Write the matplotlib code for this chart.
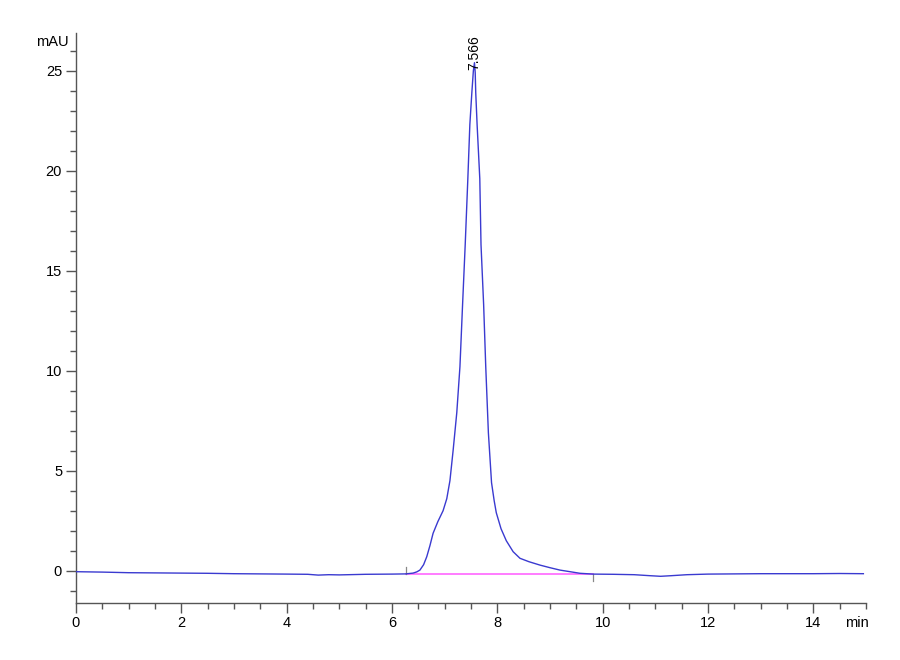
import matplotlib
matplotlib.use("Agg")
import matplotlib.pyplot as plt
from matplotlib.ticker import MultipleLocator
from matplotlib import font_manager

names = {f.name for f in font_manager.fontManager.ttflist}
fam = "Liberation Sans Narrow" if "Liberation Sans Narrow" in names else "Liberation Sans"
plt.rcParams['font.family'] = [fam, 'DejaVu Sans']

# Chromatogram trace (time in min, absorbance in mAU)
time_min = [0.0, 0.5, 1.0, 1.5, 2.0, 2.5, 3.0, 3.5, 4.0, 4.4, 4.6, 4.8, 5.0, 5.5, 6.0, 6.26,
            6.40, 6.47, 6.53, 6.60, 6.66, 6.72, 6.78, 6.87, 6.97, 7.04, 7.10, 7.16, 7.23,
            7.29, 7.34, 7.39, 7.44, 7.478, 7.516, 7.545, 7.566, 7.58, 7.59, 7.616, 7.667,
            7.69, 7.74, 7.78, 7.83, 7.89, 7.94, 7.98, 8.07, 8.17, 8.30, 8.43, 8.60, 8.81,
            9.0, 9.19, 9.57, 9.82, 10.2, 10.6, 10.9, 11.1, 11.3, 11.6,
            12.0, 12.5, 13.0, 13.5, 14.0, 14.5, 14.95]
signal_mau = [-0.05, -0.07, -0.1, -0.11, -0.12, -0.13, -0.15, -0.16, -0.17, -0.18, -0.22,
              -0.2, -0.21, -0.18, -0.17, -0.16,
              -0.12, -0.06, 0.03, 0.3, 0.7, 1.25, 1.87, 2.45, 3.0, 3.6, 4.5, 6.0, 7.9,
              10.2, 13.3, 16.3, 19.6, 22.3, 23.9, 25.0, 25.4, 24.9, 23.9, 22.3, 19.6,
              16.3, 13.3, 10.2, 6.9, 4.4, 3.5, 2.9, 2.1, 1.5, 0.95, 0.62, 0.45, 0.28,
              0.15, 0.03, -0.13, -0.17, -0.18, -0.2, -0.25, -0.28, -0.25,
              -0.2, -0.17, -0.16, -0.15, -0.15, -0.15, -0.14, -0.15]

# Integration baseline
base_t = [6.26, 9.82]
base_y = [-0.16, -0.16]

peak_rt = 7.566
peak_label_y = 25.05
peak_label = "7.566"

fig = plt.figure(figsize=(9, 6.6), dpi=100)
ax = fig.add_axes([76/900, 57.5/660, 790/900, 569.2/660])

ax.plot(time_min, signal_mau, color="#3a3ad0", lw=1.0, zorder=3)
ax.plot(base_t, base_y, color="#ff66ff", lw=1.2, zorder=2)
# integration marks
ax.plot([base_t[0], base_t[0]], [base_y[0], base_y[0] + 0.35], color="#888888", lw=0.9)
ax.plot([base_t[1], base_t[1]], [base_y[1], base_y[1] - 0.35], color="#888888", lw=0.9)

ax.text(peak_rt, peak_label_y, peak_label, rotation=90, ha="center", va="bottom",
        fontsize=10, color="black")

ax.set_xlim(0, 15)
ax.set_ylim(-1.59, 26.87)
ax.xaxis.set_major_locator(MultipleLocator(2))
ax.xaxis.set_minor_locator(MultipleLocator(0.5))
ax.yaxis.set_major_locator(MultipleLocator(5))
ax.yaxis.set_minor_locator(MultipleLocator(1))

for s in ["top", "right"]:
    ax.spines[s].set_visible(False)
for s in ["left", "bottom"]:
    ax.spines[s].set_color("#555555")
    ax.spines[s].set_linewidth(1.0)

ax.tick_params(which="major", length=7, width=1, color="#555555", labelsize=10.5, pad=3)
ax.tick_params(which="minor", length=4, width=1, color="#555555")

fig.text(857/900, 1 - 623/660, "min", fontsize=10.5, ha="center", va="center")
fig.text(52/900, 1 - 42/660, "mAU", fontsize=10.5, ha="center", va="center")

fig.savefig("out.png", dpi=100, facecolor="white")
